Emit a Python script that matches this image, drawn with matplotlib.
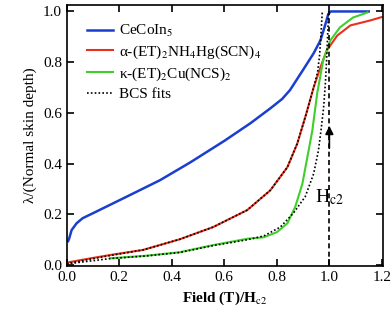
import matplotlib
matplotlib.use('Agg')
import matplotlib.pyplot as plt

plt.rcParams['font.family'] = ['Liberation Serif', 'DejaVu Serif']
plt.rcParams['mathtext.fontset'] = 'stix'

# CeCoIn5
ce_x = [0.005, 0.009, 0.018, 0.037, 0.06, 0.1, 0.228, 0.355, 0.47, 0.6, 0.7, 0.775,
        0.82, 0.85, 0.9, 0.94, 0.966, 0.985, 0.996, 1.005, 1.05, 1.15]
ce_y = [0.095, 0.106, 0.138, 0.165, 0.185, 0.205, 0.27, 0.335, 0.405, 0.49, 0.56, 0.618,
        0.655, 0.69, 0.77, 0.835, 0.886, 0.95, 0.99, 1.0, 1.0, 1.0]

# alpha-(ET)2NH4Hg(SCN)4
al_x = [0.0, 0.01, 0.08, 0.165, 0.29, 0.43, 0.557, 0.687, 0.775, 0.84, 0.878,
        0.91, 0.94, 0.966, 0.99, 1.03, 1.08, 1.157, 1.2]
al_y = [0.01, 0.012, 0.025, 0.04, 0.06, 0.102, 0.15, 0.217, 0.295, 0.386, 0.48,
        0.59, 0.70, 0.78, 0.846, 0.905, 0.945, 0.965, 0.978]

# kappa-(ET)2Cu(NCS)2
ka_x = [0.165, 0.3, 0.43, 0.557, 0.687, 0.75, 0.80, 0.84, 0.87, 0.897, 0.916,
        0.935, 0.954, 0.977, 1.004, 1.04, 1.09, 1.145]
ka_y = [0.027, 0.037, 0.051, 0.079, 0.104, 0.11, 0.13, 0.165, 0.23, 0.32, 0.425,
        0.53, 0.68, 0.81, 0.886, 0.937, 0.976, 0.996]

# BCS fits
fit1_x = [0.0, 0.08, 0.165, 0.29, 0.43, 0.557, 0.687, 0.775, 0.84, 0.878, 0.91,
          0.94, 0.955, 0.963, 0.968, 0.973]
fit1_y = [0.005, 0.022, 0.038, 0.06, 0.102, 0.15, 0.217, 0.295, 0.386, 0.48, 0.59,
          0.70, 0.76, 0.83, 0.91, 1.0]
fit2_x = [0.0, 0.165, 0.3, 0.43, 0.557, 0.687, 0.75, 0.813, 0.863, 0.908, 0.94,
          0.958, 0.968, 0.978, 0.985, 0.99, 0.994, 0.997]
fit2_y = [0.005, 0.026, 0.036, 0.05, 0.077, 0.1, 0.115, 0.15, 0.205, 0.27, 0.36,
          0.45, 0.53, 0.62, 0.72, 0.82, 0.92, 1.0]

hc2 = 1.0

fig = plt.figure(figsize=(3.91, 3.2), dpi=100)
ax = fig.add_axes([0.171, 0.169, 0.809, 0.815])

dots = (0, (1, 1.3))
ax.plot(ce_x, ce_y, color='#1a3fd0', lw=1.8, label='CeCoIn$_5$')
ax.plot(al_x, al_y, color='#e8301c', lw=1.5, label='α-(ET)$_2$NH$_4$Hg(SCN)$_4$')
ax.plot(ka_x, ka_y, color='#3fcf2a', lw=1.5, label='κ-(ET)$_2$Cu(NCS)$_2$')
ax.plot(fit1_x, fit1_y, color='black', lw=1.2, ls=dots, label='BCS fits')
ax.plot(fit2_x, fit2_y, color='black', lw=1.2, ls=dots)

# Hc2 marker
ax.plot([hc2, hc2], [0, 1.0], color='black', lw=1.2, ls=(0, (3, 2)))
ax.annotate('', xy=(hc2, 0.56), xytext=(hc2, 0.45),
            arrowprops=dict(arrowstyle='-|>', color='black', lw=1.2, mutation_scale=12))
ax.text(0.945, 0.27, 'H$_{\\mathrm{c2}}$', fontsize=14, va='center', ha='left')

ax.set_xlim(0, 1.205)
ax.set_ylim(-0.003, 1.025)
ax.set_xticks([0.0, 0.2, 0.4, 0.6, 0.8, 1.0, 1.2])
ax.set_yticks([0.0, 0.2, 0.4, 0.6, 0.8, 1.0])
ax.xaxis.set_major_formatter(plt.FormatStrFormatter('%.1f'))
ax.yaxis.set_major_formatter(plt.FormatStrFormatter('%.1f'))
ax.tick_params(direction='in', top=True, right=True, length=5, width=1.2, labelsize=11)
for s in ax.spines.values():
    s.set_linewidth(1.2)

ax.set_xlabel('Field (T)/H$_{\\mathrm{c2}}$', fontsize=11, fontweight='bold')
ax.set_ylabel('λ/(Normal skin depth)', fontsize=11)

ax.legend(loc='upper left', frameon=False, fontsize=11, handlelength=1.7,
          handletextpad=0.4, labelspacing=0.3, borderaxespad=0.0,
          bbox_to_anchor=(0.045, 0.955))

fig.savefig('out.png', dpi=100)
